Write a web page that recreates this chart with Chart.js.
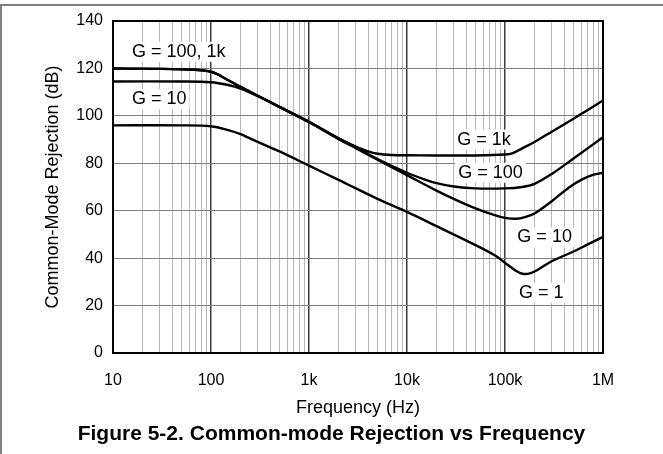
<!DOCTYPE html>
<html>
<head>
<meta charset="utf-8">
<script src="https://cdn.jsdelivr.net/npm/chart.js@4/dist/chart.umd.min.js"></script>
<style>
  html, body { margin: 0; padding: 0; background: #fff; }
  #wrap { position: relative; width: 663px; height: 454px; }
  canvas { display: block; }
  #caption {
    position: absolute; left: 0; top: 421px; width: 663px;
    text-align: center; line-height: 24px; color: #000;
    font: bold 21px 'Liberation Sans', Arial, sans-serif;
  }
</style>
</head>
<body>
<div id="wrap">
  <canvas id="cmrr" width="663" height="454"></canvas>
  <div id="caption">Figure 5-2. Common-mode Rejection vs Frequency</div>
</div>
<script>
// values: frequency (Hz) and CMRR (dB) per gain
const freqG1 = [10, 50, 100, 150, 200, 300, 500, 1000, 2000, 5000, 10000, 20000, 50000, 80000, 100000, 130000, 150000, 180000, 220000, 300000, 500000, 700000, 1000000];
const cmrrG1 = [96, 96, 95.6, 94, 92.3, 89, 85, 79, 73, 65, 59.5, 53.5, 45.5, 41, 38, 34.6, 33.4, 33.6, 35.3, 38.7, 42.8, 45.8, 49];

const freqG10 = [10, 50, 100, 150, 200, 300, 500, 1000, 2000, 3000, 5000, 10000, 20000, 30000, 50000, 80000, 100000, 130000, 160000, 200000, 300000, 450000, 600000, 800000, 1000000];
const cmrrG10 = [114.5, 114.5, 114.2, 113, 111.5, 108.3, 103.7, 97.3, 90.2, 86.4, 81.5, 75, 68.5, 65, 61, 58, 57, 56.6, 57.3, 58.8, 64, 69.8, 73, 75.2, 76];

const freqG100 = [10, 50, 100, 150, 200, 300, 500, 1000, 2000, 3000, 5000, 10000, 15000, 20000, 30000, 50000, 100000, 150000, 200000, 300000, 500000, 1000000];
const cmrrG100 = [120, 119.6, 118.6, 115, 112.2, 108.5, 103.8, 97.5, 90.5, 86.8, 81.8, 76, 73.2, 71.6, 70.2, 69.4, 69.4, 70, 71.3, 75.5, 82, 91];

const freqG1k = [10, 50, 100, 150, 200, 300, 500, 1000, 2000, 3000, 4000, 5000, 7000, 10000, 20000, 50000, 100000, 120000, 150000, 200000, 300000, 500000, 700000, 1000000];
const cmrrG1k = [120, 119.6, 118.6, 115, 112.2, 108.5, 103.8, 97.5, 90.5, 87, 85, 84, 83.5, 83.4, 83.3, 83.3, 83.7, 84.3, 86.3, 89, 93.3, 98.8, 102.5, 106.5];

const xDecades = [10, 100, 1000, 10000, 100000, 1000000];
const xDecadeLabels = ['10', '100', '1k', '10k', '100k', '1M'];
const yMin = 0, yMax = 140, yStep = 20;

const curveNames = ['G = 100, 1k', 'G = 10', 'G = 1k', 'G = 100', 'G = 10', 'G = 1'];

// where each curve name sits (left edge, vertical middle) in data units
const nameSpots = [
  { f: 15.6, db: 127 },
  { f: 15.6, db: 107 },
  { f: 32600, db: 90 },
  { f: 33300, db: 76 },
  { f: 133700, db: 48.7 },
  { f: 139000, db: 25.4 }
];

const pairs = (fs, vs) => fs.map((f, i) => ({ x: f, y: vs[i] }));

// 1..9 per decade for the grid
const gridFreqs = [];
for (let d = 0; d < xDecades.length - 1; d++) {
  for (let m = 1; m <= 9; m++) gridFreqs.push(xDecades[d] * m);
}
gridFreqs.push(xDecades[xDecades.length - 1]);

const isDecade = v => Math.abs(Math.log10(v) - Math.round(Math.log10(v))) < 1e-9;

Chart.defaults.font.family = "'Liberation Sans', Arial, sans-serif";
Chart.defaults.color = '#000';

const framePlugin = {
  id: 'frame',
  beforeDraw(chart) {
    const c = chart.ctx;
    c.save();
    c.fillStyle = '#fff';
    c.fillRect(0, 0, chart.width, chart.height);
    c.fillStyle = '#808080';
    c.fillRect(0, 4, chart.width, 2);
    c.fillRect(0, 4, 2, chart.height - 4);
    c.restore();
  },
  beforeDatasetsDraw(chart) {
    const c = chart.ctx;
    const xs = chart.scales.x, ys = chart.scales.y;
    c.save();
    c.font = "18px 'Liberation Sans', Arial, sans-serif";
    c.textAlign = 'left';
    c.textBaseline = 'middle';
    curveNames.forEach((txt, i) => {
      const px = xs.getPixelForValue(nameSpots[i].f);
      const py = ys.getPixelForValue(nameSpots[i].db);
      const w = c.measureText(txt).width;
      c.fillStyle = '#fff';
      c.fillRect(px - 3, py - 10, w + 6, 20);
      c.fillStyle = '#000';
      c.fillText(txt, px, py);
    });
    c.restore();
  },
  afterDatasetsDraw(chart) {
    const a = chart.chartArea;
    const c = chart.ctx;
    c.save();
    c.strokeStyle = '#000';
    c.lineWidth = 2;
    c.strokeRect(a.left, a.top, a.right - a.left, a.bottom - a.top);
    c.restore();
  }
};

const curve = (data) => ({
  data: data,
  borderColor: '#000',
  borderWidth: 2.4,
  pointRadius: 0,
  fill: false,
  tension: 0.35
});

new Chart(document.getElementById('cmrr'), {
  type: 'line',
  data: {
    datasets: [
      curve(pairs(freqG1, cmrrG1)),
      curve(pairs(freqG10, cmrrG10)),
      curve(pairs(freqG100, cmrrG100)),
      curve(pairs(freqG1k, cmrrG1k))
    ]
  },
  options: {
    responsive: false,
    animation: false,
    devicePixelRatio: 1,
    layout: { padding: { top: 21, right: 60, bottom: 27, left: 0 } },
    plugins: {
      legend: { display: false },
      tooltip: { enabled: false }
    },
    scales: {
      x: {
        type: 'logarithmic',
        min: xDecades[0],
        max: xDecades[xDecades.length - 1],
        afterBuildTicks: s => { s.ticks = gridFreqs.map(v => ({ value: v })); },
        afterFit: s => { s.height = 74; },
        border: { display: false },
        grid: {
          drawTicks: false,
          color: ctx => isDecade(ctx.tick.value) ? '#3c3c3c' : '#b8b8b8',
          lineWidth: ctx => isDecade(ctx.tick.value) ? 1.5 : 1
        },
        ticks: {
          autoSkip: false,
          maxRotation: 0,
          minRotation: 0,
          padding: 18,
          font: { size: 16 },
          callback: v => {
            const i = xDecades.findIndex(d => Math.abs(d - v) < 1e-6);
            return i >= 0 ? xDecadeLabels[i] : '';
          }
        },
        title: {
          display: true,
          text: 'Frequency (Hz)',
          font: { size: 18 },
          padding: { top: 0, bottom: 8 }
        }
      },
      y: {
        min: yMin,
        max: yMax,
        afterFit: s => { s.width = 113; },
        border: { display: false },
        grid: { drawTicks: false, color: '#808080', lineWidth: 1 },
        ticks: { stepSize: yStep, padding: 10, font: { size: 16 } },
        title: {
          display: true,
          text: 'Common-Mode Rejection (dB)',
          font: { size: 18 },
          padding: { top: 42, bottom: 0 }
        }
      }
    }
  },
  plugins: [framePlugin]
});
</script>
</body>
</html>
